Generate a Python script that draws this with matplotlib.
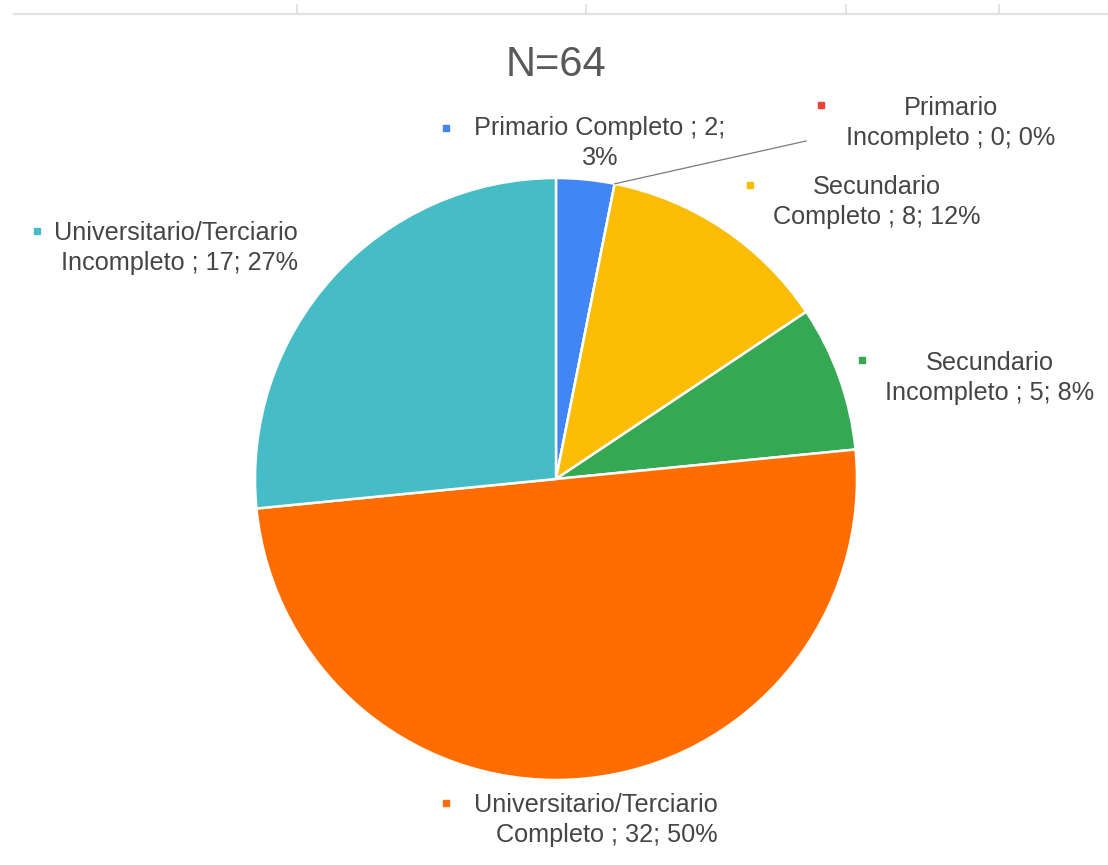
import matplotlib.pyplot as plt
import numpy as np
from matplotlib.lines import Line2D

plt.rcParams["font.family"] = ["Liberation Sans", "DejaVu Sans"]

categories = [
    "Primario Completo",
    "Primario\nIncompleto",
    "Secundario\nCompleto",
    "Secundario\nIncompleto",
    "Universitario/Terciario\nCompleto",
    "Universitario/Terciario\nIncompleto",
]
counts = [2, 0, 8, 5, 32, 17]
colors = ["#4285F4", "#EA4335", "#FBBC04", "#34A853", "#FF6D01", "#46BDC6"]
title = "N=64"

W, H = 1108, 865
TEXT = "#454545"

# label placement in pixels from the top-left: (text x, text top y, marker x, marker y, alignment)
label_layout = [
    (600, 116, 446, 128, "center"),
    (951, 96, 821, 105, "center"),
    (877, 175, 750, 185, "center"),
    (990, 351, 862, 360, "center"),
    (718, 793, 446, 803, "right"),
    (298, 221, 37, 231, "right"),
]


def fx(px):
    return px / W


def fy(py):
    return 1 - py / H


fig = plt.figure(figsize=(W / 100, H / 100), dpi=100)

# faint axis line along the top edge
fig.add_artist(Line2D([fx(14), 1], [fy(13.5), fy(13.5)], color="#e2e2e2", lw=1.6,
                      transform=fig.transFigure))
for tx in [297, 586, 846, 999]:
    fig.add_artist(Line2D([fx(tx), fx(tx)], [fy(5), fy(13)], color="#dcdcdc", lw=1.1,
                          transform=fig.transFigure))

cx, cy, r = 556, 479, 301
ax = fig.add_axes([fx(cx - r), fy(cy + r), 2 * r / W, 2 * r / H])
ax.pie(counts, colors=colors, startangle=90, counterclock=False, radius=1,
       wedgeprops=dict(edgecolor="white", linewidth=1.8))
ax.set_xlim(-1, 1)
ax.set_ylim(-1, 1)
ax.set_aspect("auto")
ax.axis("off")

fig.text(fx(556), fy(76), title, ha="center", va="baseline", fontsize=30, color="#595959")

total = sum(counts)
for name, n, col, (tx, ty, mx, my, align) in zip(categories, counts, colors, label_layout):
    pct = round(100 * n / total)
    if "\n" in name:
        label = f"{name} ; {n}; {pct}%"
    else:
        label = f"{name} ; {n};\n{pct}%"
    fig.text(fx(tx), fy(ty), label, ha=align, va="top", multialignment=align,
             fontsize=18.2, color=TEXT, linespacing=1.3)
    fig.add_artist(Line2D([fx(mx)], [fy(my)], marker="s", ms=5, color=col, lw=0,
                          transform=fig.transFigure))

# leader line for the empty slice, starting at its position on the rim
frac = counts[0] / total
ang = 2 * np.pi * frac
sx, sy = cx + r * np.sin(ang), cy - r * np.cos(ang)
fig.add_artist(Line2D([fx(sx), fx(806)], [fy(sy), fy(141)], color="#7a7a7a", lw=0.9,
                      transform=fig.transFigure))

fig.savefig("out.png", dpi=100)
